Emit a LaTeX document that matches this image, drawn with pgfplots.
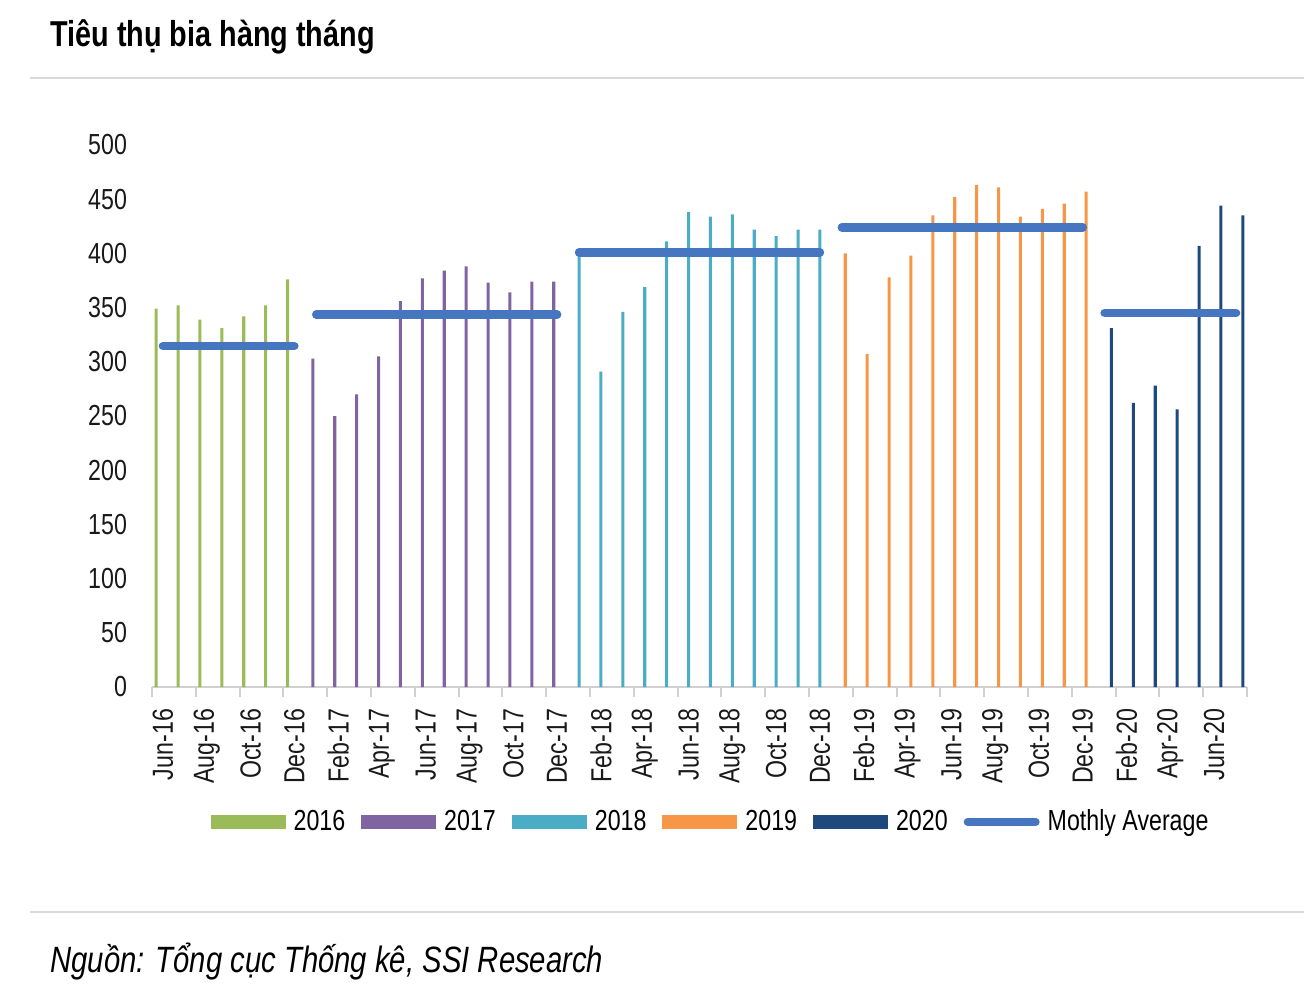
\documentclass[border=0pt]{standalone}
\usepackage{fontspec}
\setmainfont{Liberation Sans}[FakeStretch=0.8]
\usepackage{pgfplots}
\pgfplotsset{compat=1.18}
\definecolor{c16}{HTML}{9BBB59}
\definecolor{c17}{HTML}{8064A2}
\definecolor{c18}{HTML}{4BACC6}
\definecolor{c19}{HTML}{F79646}
\definecolor{c20}{HTML}{1F497D}
\definecolor{cavg}{RGB}{70,118,192}
\definecolor{rule}{HTML}{D9D9D9}
\definecolor{axisgray}{HTML}{D0D0D0}
\begin{document}
\begin{tikzpicture}
\useasboundingbox (0,0) rectangle (652pt,495.5pt);
\node[anchor=base west, inner sep=0pt, font=\fontsize{18}{21}\selectfont\bfseries] at (25pt,472pt) {Tiêu thụ bia hàng tháng};
\draw[line width=1pt, color=rule] (15pt,456.5pt) -- (652pt,456.5pt);
\draw[line width=1pt, color=rule] (15pt,39.5pt) -- (652pt,39.5pt);
\node[anchor=base west, inner sep=0pt, font=\fontsize{18.3}{21}\selectfont\itshape] at (25pt,9.2pt) {Nguồn: Tổng cục Thống kê, SSI Research};
\begin{axis}[
  at={(76pt,152pt)}, anchor=south west,
  scale only axis, width=547.5pt, height=271pt,
  xmin=-0.5, xmax=49.5, ymin=0, ymax=500,
  axis x line*=bottom, axis y line*=left,
  x axis line style={-, draw=axisgray, line width=1pt},
  y axis line style={draw=none},
  ytick={0,50,...,500},
  xtick={0,2,...,48},
  xticklabels={Jun-16,Aug-16,Oct-16,Dec-16,Feb-17,Apr-17,Jun-17,Aug-17,Oct-17,Dec-17,Feb-18,Apr-18,Jun-18,Aug-18,Oct-18,Dec-18,Feb-19,Apr-19,Jun-19,Aug-19,Oct-19,Dec-19,Feb-20,Apr-20,Jun-20},
  minor xtick={-0.5,1.5,...,49.5},
  major tick length=0pt, minor tick length=5pt,
  tick align=outside,
  minor tick style={draw=axisgray, line width=1pt},
  major tick style={draw=none},
  tick label style={font=\fontsize{14.5}{17}\selectfont, text=black!90},
  xticklabel style={rotate=90, anchor=east, xshift=-7.5pt},
  yticklabel style={xshift=-9pt},
  /pgf/number format/assume math mode=true,
  legend columns=6,
  legend style={at={(0.511,-0.249)}, anchor=center, draw=none, fill=none,
    font=\fontsize{14.5}{17}\selectfont,
    /tikz/every odd column/.append style={column sep=2pt},
    /tikz/every even column/.append style={column sep=6pt}},
  clip=false,
]
\addplot[ybar, bar width=0.14, bar shift=-0.31, fill=c16, draw=none,
  legend image code/.code={\fill[c16] (0pt,-3.5pt) rectangle (37.5pt,3.5pt);}]
  coordinates {(0,349) (1,352) (2,339) (3,331) (4,342) (5,352) (6,376)};
\addlegendentry{2016}
\addplot[ybar, bar width=0.14, bar shift=-0.155, fill=c17, draw=none,
  legend image code/.code={\fill[c17] (0pt,-3.5pt) rectangle (37.5pt,3.5pt);}]
  coordinates {(7,303) (8,250) (9,270) (10,305) (11,356) (12,377) (13,384) (14,388) (15,373) (16,364) (17,374) (18,374)};
\addlegendentry{2017}
\addplot[ybar, bar width=0.14, bar shift=0, fill=c18, draw=none,
  legend image code/.code={\fill[c18] (0pt,-3.5pt) rectangle (37.5pt,3.5pt);}]
  coordinates {(19,400) (20,291) (21,346) (22,369) (23,411) (24,438) (25,434) (26,436) (27,422) (28,416) (29,422) (30,422)};
\addlegendentry{2018}
\addplot[ybar, bar width=0.14, bar shift=0.155, fill=c19, draw=none,
  legend image code/.code={\fill[c19] (0pt,-3.5pt) rectangle (37.5pt,3.5pt);}]
  coordinates {(31,400) (32,307) (33,378) (34,398) (35,435) (36,452) (37,463) (38,461) (39,434) (40,441) (41,446) (42,457)};
\addlegendentry{2019}
\addplot[ybar, bar width=0.14, bar shift=0.31, fill=c20, draw=none,
  legend image code/.code={\fill[c20] (0pt,-3.5pt) rectangle (37.5pt,3.5pt);}]
  coordinates {(43,331) (44,262) (45,278) (46,256) (47,407) (48,444) (49,435)};
\addlegendentry{2020}
\addplot[cavg, line width=4.25pt, line cap=round, unbounded coords=jump,
  legend image code/.code={\draw[cavg, line width=4pt, line cap=round] (2pt,0pt) -- (36pt,0pt);}]
  coordinates {(0,314.5) (6,314.5) (6.5,nan) (7,343.5) (18,343.5) (18.5,nan) (19,401) (30,401) (30.5,nan) (31,424) (42,424) (42.5,nan) (43,345) (49,345)};
\addlegendentry{Mothly Average}
\end{axis}
\end{tikzpicture}
\end{document}
